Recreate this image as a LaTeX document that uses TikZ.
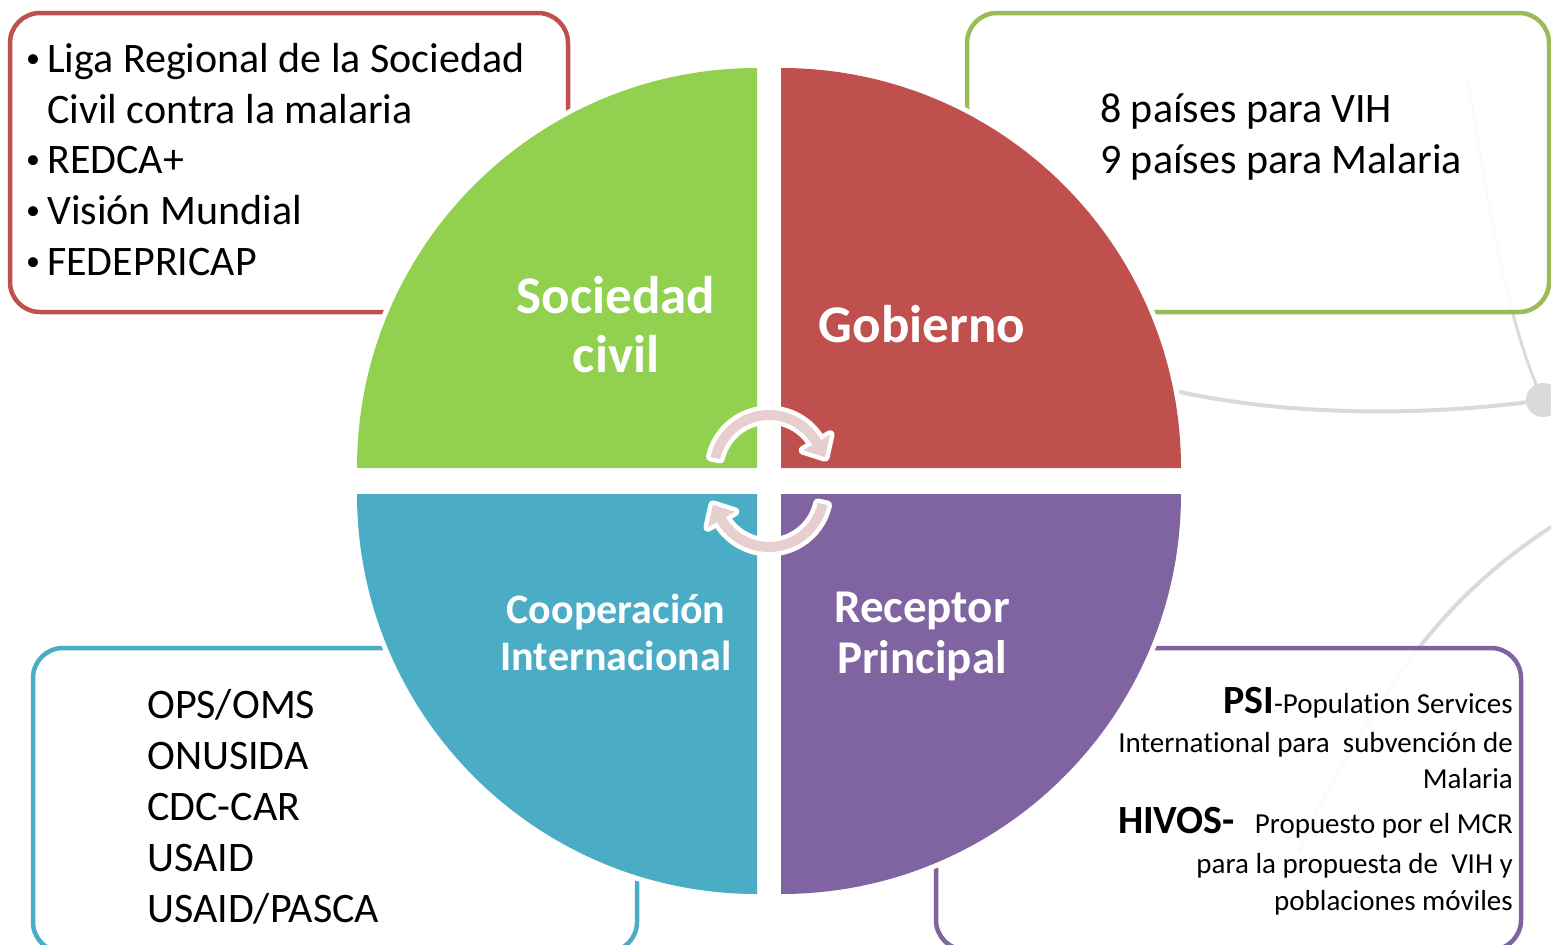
\documentclass[tikz,border=0pt]{standalone}
\usepackage{fontspec}
\setmainfont{Carlito}[Ligatures=NoCommon]
\definecolor{cgreen}{HTML}{92D050}
\definecolor{cred}{HTML}{C0504D}
\definecolor{cblue}{HTML}{4BACC6}
\definecolor{cpurple}{HTML}{8064A2}
\definecolor{bgreen}{HTML}{9BBB59}
\definecolor{cpink}{RGB}{231,207,207}
\definecolor{cgray}{RGB}{218,218,218}
\newcommand{\fsz}[2]{\fontsize{#1}{#2}\selectfont}
\begin{document}
\begin{tikzpicture}[x=1pt,y=-1pt,
  infobox/.style={line width=4.5pt, rounded corners=30pt, fill=white, fill opacity=0.9},
  quad/.style={preaction={draw=white, line width=10pt}},
  qlabel/.style={text=white, anchor=base, inner sep=0pt},
  bodytext/.style={anchor=base west, inner sep=0pt, font=\fsz{42}{51}},
  bulletmark/.style={anchor=base, inner sep=0pt, font=\fsz{28}{34}},
  smalltext/.style={anchor=base east, inner sep=0pt, font=\fsz{29}{35}},
  cycarrow/.style={fill=cpink, preaction={draw=white, line width=9pt, line join=round}},
  bgline/.style={draw=cgray, line width=4pt, line cap=round}
]
% canvas
\fill[white] (0,0) rectangle (1551,945);
\useasboundingbox (0,0) rectangle (1551,945);
\clip (0,0) rectangle (1551,945);

% faint background network
\draw[bgline] (1180,392) .. controls (1300,418) and (1440,415) .. (1543,400);
\fill[cgray] (1543,400) circle[radius=17];
\draw[bgline, line width=3pt] (1543,400) .. controls (1510,330) and (1490,220) .. (1468,80);
\draw[bgline] (1551,527) .. controls (1470,580) and (1420,640) .. (1383,700) .. controls (1350,750) and (1320,800) .. (1300,850);

% info boxes
\draw[infobox, draw=cred] (10,13) rectangle (568,312);
\draw[infobox, draw=bgreen] (967,13) rectangle (1549,312);
\draw[infobox, draw=cblue] (33,648) rectangle (637,952);
\draw[infobox, draw=cpurple] (936,648) rectangle (1521,950);

% pie quadrants
\fill[cgreen, quad] (757,468) -- (357,468) arc[start angle=180, end angle=270, radius=400] -- cycle;
\fill[cred, quad] (781,468) -- (781,68) arc[start angle=270, end angle=360, radius=400] -- cycle;
\fill[cpurple, quad] (781,494) -- (1181,494) arc[start angle=0, end angle=90, radius=400] -- cycle;
\fill[cblue, quad] (757,494) -- (757,894) arc[start angle=90, end angle=180, radius=400] -- cycle;

% quadrant labels
\node[qlabel, font=\fsz{53}{59}\bfseries] (soc1) at (616,313) {Sociedad};
\node[qlabel, font=\fsz{53}{59}\bfseries] (soc2) at (616,372) {civil};
\node[qlabel, font=\fsz{53}{59}\bfseries] (gob) at (922,342) {Gobierno};
\node[qlabel, font=\fsz{42}{47}\bfseries] (coop1) at (616,623) {Cooperación};
\node[qlabel, font=\fsz{42}{47}\bfseries] (coop2) at (616,670) {Internacional};
\node[qlabel, font=\fsz{47}{51}\bfseries] (rec1) at (922,622) {Receptor};
\node[qlabel, font=\fsz{47}{51}\bfseries] (rec2) at (922,673) {Principal};

% top-left list
\node[bulletmark] (bu1) at (33,67) {•};
\node[bodytext] (tl1) at (47,72) {Liga Regional de la Sociedad};
\node[bodytext] (tl2) at (47,123) {Civil contra la malaria};
\node[bulletmark] (bu2) at (33,168) {•};
\node[bodytext] (tl3) at (47,173) {REDCA+};
\node[bulletmark] (bu3) at (33,219) {•};
\node[bodytext] (tl4) at (47,224) {Visión Mundial};
\node[bulletmark] (bu4) at (33,270) {•};
\node[bodytext] (tl5) at (47,275) {FEDEPRICAP};

% top-right
\node[bodytext] (tr1) at (1100,122) {8 países para VIH};
\node[bodytext] (tr2) at (1100,173) {9 países para Malaria};

% bottom-left
\node[bodytext] (bl1) at (147,718) {OPS/OMS};
\node[bodytext] (bl2) at (147,769) {ONUSIDA};
\node[bodytext] (bl3) at (147,820) {CDC-CAR};
\node[bodytext] (bl4) at (147,871) {USAID};
\node[bodytext] (bl5) at (147,922) {USAID/PASCA};

% bottom-right
\node[smalltext] (br1) at (1513,713) {{\fsz{40}{48}\bfseries PSI}-Population Services};
\node[smalltext] (br2) at (1513,752) {International para\ \ subvención de};
\node[smalltext] (br3) at (1513,788) {Malaria};
\node[smalltext] (br4) at (1513,833) {{\fsz{40}{48}\bfseries HIVOS-}\hspace{20pt}Propuesto por el MCR};
\node[smalltext] (br5) at (1513,873) {para la propuesta de\ \ VIH y};
\node[smalltext] (br6) at (1513,910) {poblaciones móviles};

% circular arrows
\path[cycarrow] (710.45,456.9) arc[start angle=192.6, end angle=330, radius=60]
  -- (830.05,434.75) -- (825.1,457.2) -- (803.2,450.25) -- (812.3,445)
  arc[start angle=330, end angle=192.6, radius=50] -- cycle;
\begin{scope}[rotate around={180:(769,481)}]
\path[cycarrow] (710.45,456.9) arc[start angle=192.6, end angle=330, radius=60]
  -- (830.05,434.75) -- (825.1,457.2) -- (803.2,450.25) -- (812.3,445)
  arc[start angle=330, end angle=192.6, radius=50] -- cycle;
\end{scope}
\end{tikzpicture}
\end{document}
